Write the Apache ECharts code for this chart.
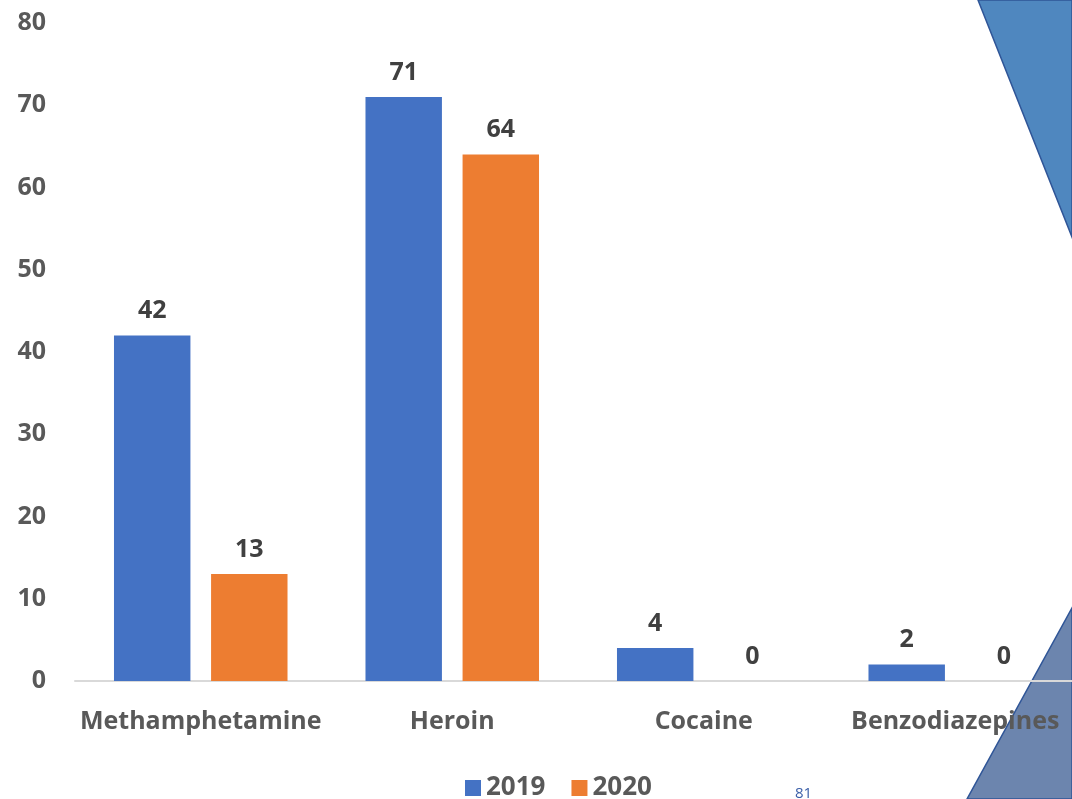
<!DOCTYPE html>
<html><head><meta charset="utf-8">
<script src="https://cdn.jsdelivr.net/npm/echarts@6/dist/echarts.min.js"></script>
<style>html,body{margin:0;padding:0;background:#fff;overflow:hidden}#c{width:1100px;height:799px}</style>
</head><body><div id="c"></div>
<script>
const categories = ['Methamphetamine', 'Heroin', 'Cocaine', 'Benzodiazepines'];
const seriesNames = ['2019', '2020'];
const values2019 = [42, 71, 4, 2];
const values2020 = [13, 64, 0, 0];
const yTicks = [0, 10, 20, 30, 40, 50, 60, 70, 80];
const pageNumber = '81';

const font = '"Open Sans", sans-serif';
const chart = echarts.init(document.getElementById('c'));
const lbl = {show: true, position: 'top', distance: 12, color: '#404040', fontSize: 25, fontWeight: 'bold', fontFamily: font};
chart.setOption({
  animation: false,
  graphic: [
    {type: 'polygon', z: -10, shape: {points: [[978, 0], [1072, 0], [1072, 237]]},
     style: {fill: '#4F87BF', stroke: '#2F5597', lineWidth: 1.5}},
    {type: 'polygon', z: -10, shape: {points: [[1072, 608], [1072, 799], [967, 799]]},
     style: {fill: '#6C85AE', stroke: '#2F5597', lineWidth: 1.5}},
    {type: 'text', left: 795, top: 786, z: 10,
     style: {text: pageNumber, fill: '#3A5EA8', fontSize: 15, fontFamily: font}}
  ],
  grid: {left: 75, top: 23, width: 1006, bottom: 118, containLabel: false},
  legend: {top: 775, left: 465, padding: 0, itemWidth: 16, itemHeight: 16, itemGap: 26, icon: 'rect',
    textStyle: {color: '#595959', fontSize: 26, fontWeight: 'bold', fontFamily: font}, data: seriesNames},
  xAxis: {type: 'category', data: categories,
    axisLine: {lineStyle: {color: '#D9D9D9', width: 2}}, axisTick: {show: false},
    axisLabel: {color: '#595959', fontSize: 25, fontWeight: 'bold', fontFamily: font, margin: 28, interval: 0}},
  yAxis: {type: 'value', min: yTicks[0], max: yTicks[yTicks.length - 1], interval: 10,
    axisLine: {show: false}, axisTick: {show: false}, splitLine: {show: false},
    axisLabel: {color: '#595959', fontSize: 25, fontWeight: 'bold', fontFamily: font, margin: 29}},
  series: [
    {name: seriesNames[0], type: 'bar', data: values2019, itemStyle: {color: '#4472C4'},
     barGap: '27%', barCategoryGap: '31%', label: lbl},
    {name: seriesNames[1], type: 'bar', data: values2020, itemStyle: {color: '#ED7D31'}, label: lbl}
  ]
});
</script></body></html>
